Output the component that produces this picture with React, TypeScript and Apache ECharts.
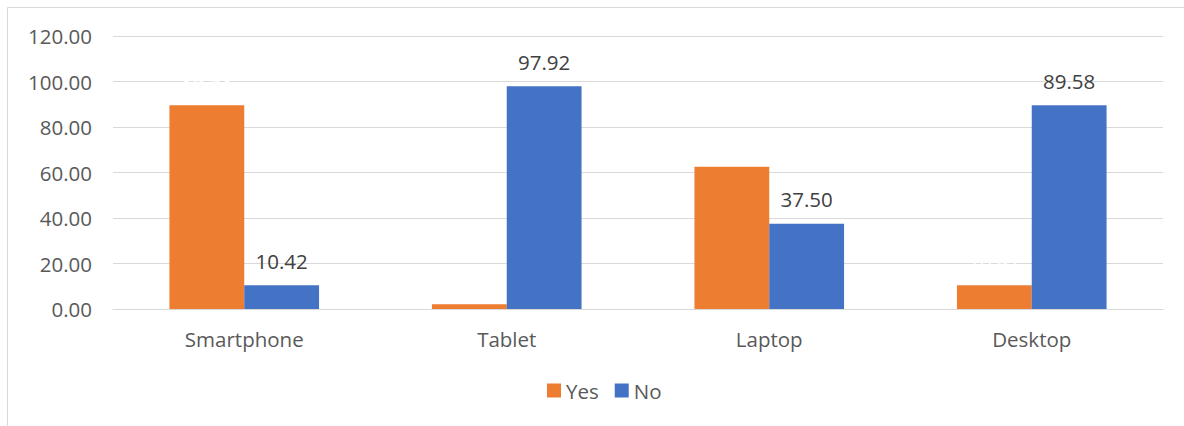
import React, { useEffect, useRef } from "react";
import * as echarts from "echarts";

const categories = ["Smartphone", "Tablet", "Laptop", "Desktop"];
const yesValues = [89.58, 2.08, 62.5, 10.42];
const noValues = [10.42, 97.92, 37.5, 89.58];
const seriesNames = ["Yes", "No"];

const FONT = "'Open Sans', 'Noto Sans', sans-serif";
const FS = 20.5;

export default function App() {
  const ref = useRef<HTMLDivElement>(null);
  useEffect(() => {
    if (!ref.current) return;
    const chart = echarts.init(ref.current, undefined, { renderer: "svg" });
    chart.setOption({
      animation: false,
      backgroundColor: "#ffffff",
      textStyle: { fontFamily: FONT },
      graphic: [
        {
          type: "rect",
          shape: { x: 7.5, y: 7.5, width: 1200, height: 440 },
          style: { fill: "none", stroke: "#d9d9d9", lineWidth: 1 },
          silent: true,
        },
      ],
      grid: { left: 113, right: 21, top: 36, bottom: 117 },
      legend: {
        bottom: 20,
        left: 542,
        itemWidth: 14,
        itemHeight: 14,
        itemGap: 16,
        icon: "rect",
        textStyle: { fontSize: FS, color: "#595959", fontFamily: FONT },
        data: seriesNames,
      },
      xAxis: {
        type: "category",
        data: categories,
        axisLine: { lineStyle: { color: "#d9d9d9", width: 1 } },
        axisTick: { show: false },
        axisLabel: { fontSize: FS, color: "#595959", margin: 19, fontFamily: FONT },
      },
      yAxis: {
        type: "value",
        min: 0,
        max: 120,
        interval: 20,
        axisLine: { show: false },
        axisTick: { show: false },
        splitLine: { lineStyle: { color: "#d9d9d9", width: 1 } },
        axisLabel: {
          fontSize: FS,
          color: "#595959",
          margin: 21,
          fontFamily: FONT,
          formatter: (v: number) => v.toFixed(2),
        },
      },
      series: [
        {
          name: seriesNames[0],
          type: "bar",
          data: yesValues,
          barGap: "0%",
          barCategoryGap: "43%",
          itemStyle: { color: "#ed7d31" },
          label: {
            show: true,
            position: "top",
            distance: 14,
            color: "#ffffff",
            fontSize: FS,
            fontFamily: FONT,
            formatter: (p: any) => p.value.toFixed(2),
          },
        },
        {
          name: seriesNames[1],
          type: "bar",
          data: noValues,
          barGap: "0%",
          barCategoryGap: "43%",
          itemStyle: { color: "#4472c4" },
          label: {
            show: true,
            position: "top",
            distance: 14,
            color: "#404040",
            fontSize: FS,
            fontFamily: FONT,
            formatter: (p: any) => p.value.toFixed(2),
          },
        },
      ],
    });
    return () => chart.dispose();
  }, []);
  return (
    <div
      ref={ref}
      style={{ position: "fixed", left: 0, top: 0, width: 1184, height: 426 }}
    />
  );
}
